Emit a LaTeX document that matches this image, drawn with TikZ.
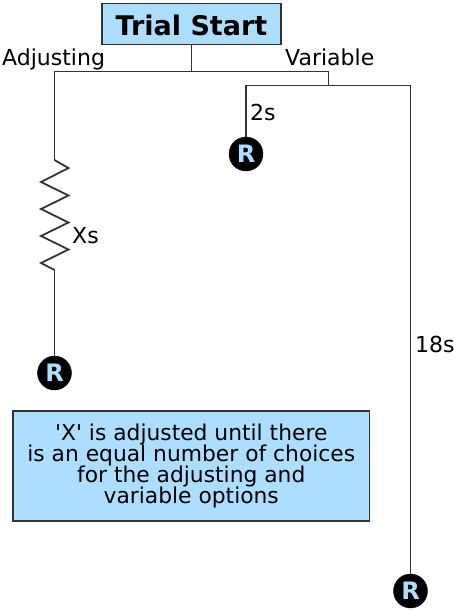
\documentclass[tikz,border=0pt]{standalone}
\usepackage{fontspec}
\setmainfont{DejaVu Sans}
\definecolor{boxblue}{HTML}{ADDDFF}
\definecolor{wire}{HTML}{333333}
\tikzset{
    bluebox/.style={draw=wire,line width=1.8pt,fill=boxblue,inner sep=0pt,align=center},
    reward/.style={circle,fill=black,draw=black,minimum size=34pt,inner sep=0pt,text=boxblue,font=\fontsize{24}{24}\selectfont\bfseries},
    wirepath/.style={draw=wire,line width=1.8pt},
    lab/.style={inner sep=0pt,font=\fontsize{22}{22}\selectfont}
}
\begin{document}
\begin{tikzpicture}[x=1pt,y=-1pt]
    \useasboundingbox (0,0) rectangle (454,611);
    \node[bluebox,minimum width=179pt,minimum height=41pt,text height=22pt,text depth=0pt,font=\fontsize{27}{27}\selectfont\bfseries] (start) at (191.5,24) {Trial Start};
    \node[bluebox,minimum width=356.5pt,minimum height=110pt,font=\fontsize{21.8}{20.5}\selectfont] (note) at (191.25,466) {\textquotesingle X\textquotesingle{} is adjusted until there\\[-1.4pt]is an equal number of choices\\[-1.4pt]for the adjusting and\\[-1.4pt]variable options};

    \node[reward] (r2) at (246,154) {R};
    \node[reward] (rx) at (54.5,373) {R};
    \node[reward] (r18) at (410.5,591) {R};

    \coordinate (split) at (191.5,71.5);
    \coordinate (adj) at (54.5,71.5);
    \coordinate (var) at (328.5,71.5);
    \coordinate (varsplit) at (328.5,85.5);
    \coordinate (short) at (246,85.5);
    \coordinate (long) at (410.5,85.5);
    \coordinate (springtop) at (54.5,160);
    \coordinate (springend) at (54.5,270);

    \draw[wirepath] (start) -- (split);
    \draw[wirepath] (var) -- (varsplit);
    \draw[wirepath] (rx) -- (springend);
    \draw[wirepath] (springtop) -- (adj) -- (var);
    \draw[wirepath] (r2) -- (short) -- (long) -- (r18);
    \draw[wirepath] (springtop) -- (68.5,168)
        \foreach \y in {182,209,236} { -- (41,\y) -- (68.5,\y+13.5) }
        -- (41,263) -- (springend);

    \node[lab,anchor=base west] (adjlab) at (2,65) {Adjusting};
    \node[lab,anchor=base west] (varlab) at (285,65) {Variable};
    \node[lab,anchor=base west] (twolab) at (250,120) {2s};
    \node[lab,anchor=base west] (xlab) at (72,243) {Xs};
    \node[lab,anchor=base west] (longlab) at (415,352) {18s};
\end{tikzpicture}
\end{document}
